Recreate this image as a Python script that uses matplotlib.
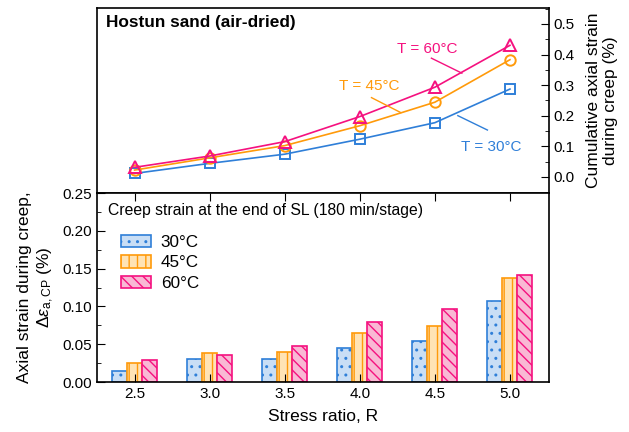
import numpy as np
import matplotlib
matplotlib.use('Agg')
import matplotlib.pyplot as plt
from matplotlib.ticker import MultipleLocator

# =================================== data ====================================
stress_ratio = [2.5, 3.0, 3.5, 4.0, 4.5, 5.0]
temps = ['30°C', '45°C', '60°C']

# cumulative axial strain during creep (%)
cum_30 = [0.011, 0.044, 0.074, 0.123, 0.177, 0.287]
cum_45 = [0.022, 0.062, 0.102, 0.167, 0.244, 0.383]
cum_60 = [0.031, 0.068, 0.115, 0.197, 0.293, 0.430]

# creep strain at the end of each SL (%)
cp_30 = [0.015, 0.031, 0.030, 0.045, 0.054, 0.107]
cp_45 = [0.025, 0.038, 0.040, 0.065, 0.074, 0.137]
cp_60 = [0.029, 0.036, 0.048, 0.079, 0.096, 0.141]

# =================================== plot ====================================
plt.rcParams['font.family'] = ['Liberation Sans', 'DejaVu Sans']
plt.rcParams['mathtext.fontset'] = 'custom'
plt.rcParams['mathtext.rm'] = 'Liberation Sans'
plt.rcParams['mathtext.it'] = 'Liberation Sans:italic'
plt.rcParams['hatch.linewidth'] = 1.0

blue, orange, pink = '#2f7fd8', '#ff9a0a', '#f5117f'
blue_f, orange_f, pink_f = '#c9def5', '#ffe3b5', '#f9b8d4'

fig = plt.figure(figsize=(6.29, 4.32), dpi=100)
ax_top = fig.add_axes([0.1542, 0.5532, 0.7186, 0.4282])
ax_bot = fig.add_axes([0.1542, 0.1157, 0.7186, 0.4375])

x = np.array(stress_ratio)

# ---- upper: cumulative strain
ax_top.plot(x, cum_30, color=blue, marker='s', mfc='none', ms=7, mew=1.4, lw=1.2)
ax_top.plot(x, cum_45, color=orange, marker='o', mfc='none', ms=7.5, mew=1.4, lw=1.2)
ax_top.plot(x, cum_60, color=pink, marker='^', mfc='none', ms=8.5, mew=1.4, lw=1.2)

ax_top.set_xlim(2.25, 5.26)
ax_top.set_ylim(-0.053, 0.552)
ax_top.yaxis.tick_right()
ax_top.yaxis.set_label_position('right')
ax_top.yaxis.set_major_locator(MultipleLocator(0.1))
ax_top.yaxis.set_minor_locator(MultipleLocator(0.05))
ax_top.yaxis.set_major_formatter(plt.FormatStrFormatter('%.1f'))
ax_top.tick_params(axis='y', which='both', direction='in', right=True, left=False, labelsize=11)
ax_top.tick_params(axis='y', which='major', length=6)
ax_top.tick_params(axis='y', which='minor', length=3)
ax_top.tick_params(axis='x', bottom=False, labelbottom=False)
ax_top.set_ylabel('Cumulative axial strain\nduring creep (%)', fontsize=12.5, labelpad=8)

ax_top.text(0.02, 0.924, 'Hostun sand (air-dried)', transform=ax_top.transAxes,
            fontsize=12.4, fontweight='bold', va='center', ha='left')

# labels with leader lines
ax_top.text(4.447, 0.417, 'T = 60°C', color=pink, fontsize=11, ha='center', va='center')
ax_top.plot([4.477, 4.68], [0.388, 0.339], color=pink, lw=1.0)
ax_top.text(4.06, 0.297, 'T = 45°C', color=orange, fontsize=11, ha='center', va='center')
ax_top.plot([4.078, 4.273], [0.259, 0.210], color=orange, lw=1.0)
ax_top.text(4.873, 0.098, 'T = 30°C', color=blue, fontsize=11, ha='center', va='center')
ax_top.plot([4.653, 4.85], [0.200, 0.153], color=blue, lw=1.0)

# ---- lower: creep strain bars
w = 0.1
ax_bot.bar(x - w, cp_30, w, facecolor=blue_f, edgecolor=blue, hatch='..', lw=1.2, label=temps[0])
ax_bot.bar(x, cp_45, w, facecolor=orange_f, edgecolor=orange, hatch='||', lw=1.2, label=temps[1])
ax_bot.bar(x + w, cp_60, w, facecolor=pink_f, edgecolor=pink, hatch='\\\\\\', lw=1.2, label=temps[2])

ax_bot.set_xlim(2.25, 5.26)
ax_bot.set_ylim(0, 0.25)
ax_bot.set_xticks(stress_ratio)
ax_bot.set_xticklabels([f'{v:.1f}' for v in stress_ratio])
ax_bot.yaxis.set_major_locator(MultipleLocator(0.05))
ax_bot.yaxis.set_minor_locator(MultipleLocator(0.025))
ax_bot.yaxis.set_major_formatter(plt.FormatStrFormatter('%.2f'))
ax_bot.tick_params(which='both', direction='in', top=True, right=False, labelsize=11)
ax_bot.tick_params(which='major', length=6)
ax_bot.tick_params(which='minor', length=3)
ax_bot.tick_params(axis='x', which='minor', top=False, bottom=False)
ax_bot.set_xlabel('Stress ratio, R', fontsize=12.5, labelpad=6)
ax_bot.set_ylabel('Axial strain during creep,\n$\\Delta\\varepsilon_{\\mathrm{a,CP}}$ (%)',
                  fontsize=12.5, labelpad=5)

ax_bot.text(0.024, 0.91, 'Creep strain at the end of SL (180 min/stage)',
            transform=ax_bot.transAxes, fontsize=11.3, va='center', ha='left')

ax_bot.legend(loc='upper left', bbox_to_anchor=(0.02, 0.86), frameon=False, fontsize=12.3,
              handlelength=1.75, handleheight=0.75, labelspacing=0.3, handletextpad=0.55)

for axx in (ax_top, ax_bot):
    for sp in axx.spines.values():
        sp.set_linewidth(1.2)

plt.savefig('out.png', dpi=100)
